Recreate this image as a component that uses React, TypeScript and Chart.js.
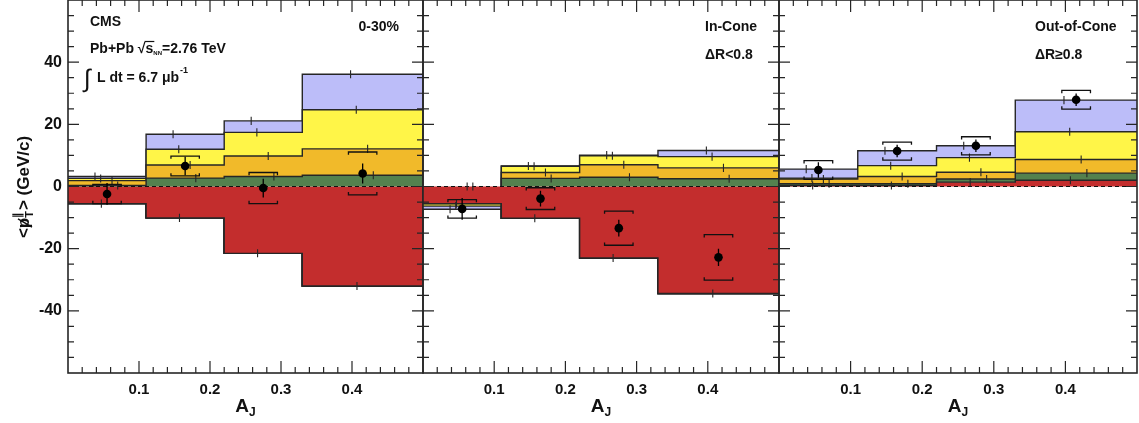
import React, { useEffect, useRef } from 'react';
import { Chart, registerables } from 'chart.js';

Chart.register(...registerables);

// ---------------- data ----------------
const BIN_EDGES = [0, 0.11, 0.22, 0.33, 0.5];
const BIN_CENTERS = [0.055, 0.165, 0.275, 0.415];
const X_TICKS = [0.1, 0.2, 0.3, 0.4];
const X_TICK_LABELS = ['0.1', '0.2', '0.3', '0.4'];
const Y_TICKS = [-40, -20, 0, 20, 40];
const Y_TICK_LABELS = ['-40', '-20', '0', '20', '40'];

// layers: 0.5-1, 1-2, 2-4, 4-8, 8-300 GeV/c (red, green, orange, yellow, blue)
// Panel 1: 0-30%
const P1_RED = [-5.5, -10.1, -21.5, -32.0];
const P1_GREEN = [0.3, 2.7, 3.2, 3.6];
const P1_ORANGE = [1.6, 4.2, 6.6, 8.5];
const P1_YELLOW = [0.7, 5.1, 7.6, 12.6];
const P1_BLUE = [0.6, 4.8, 3.7, 11.4];
const P1_DATA = [-2.4, 6.6, -0.5, 4.2];
const P1_STAT = [3.5, 3.0, 3.0, 3.2];
const P1_SYS = [3.1, 3.2, 5.0, 6.9];

// Panel 2: In-Cone
const P2_RED = [-5.5, -10.2, -23.0, -34.4];
const P2_GREEN = [0, 2.6, 3.0, 2.5];
const P2_ORANGE = [0, 1.9, 4.0, 3.5];
const P2_YELLOW = [-0.8, 2.0, 2.9, 3.6];
const P2_BLUE = [-1.0, 0.1, 0.2, 2.0];
const P2_DATA = [-7.2, -3.9, -13.4, -22.8];
const P2_STAT = [3.5, 2.5, 2.7, 2.8];
const P2_SYS = [3.0, 3.5, 5.5, 7.3];

// Panel 3: Out-of-Cone
const P3_RED = [0.3, 0.3, 1.4, 2.0];
const P3_GREEN = [0.6, 0.6, 1.0, 2.3];
const P3_ORANGE = [1.5, 2.3, 2.2, 4.4];
const P3_YELLOW = [0.3, 3.5, 4.7, 8.9];
const P3_BLUE = [2.9, 4.8, 3.8, 10.2];
const P3_DATA = [5.3, 11.4, 13.1, 27.9];
const P3_STAT = [2.5, 2.0, 2.0, 2.0];
const P3_SYS = [3.0, 2.9, 2.9, 3.0];

// ---------------- style ----------------
const FONT = '"Liberation Sans", Arial, Helvetica, sans-serif';
const OUTLINE = '#262626';
const LAYER_COLORS = ['#c32d2d', '#54814e', '#f1ba2a', '#fff548', '#bcbdf9'];
const TICK_OFFSETS = [-0.008, 0.015, 0.007, -0.009, -0.017];
const LAYER_TICK_HALF = 1.3;
const BRACKET_HALF_W = 0.02;
const BRACKET_LIP = 0.9;
const H = 423;

type TextFn = (ctx: CanvasRenderingContext2D, off: number) => void;

function txt(ctx: CanvasRenderingContext2D, s: string, x: number, y: number, size: number, align: CanvasTextAlign = 'left', weight = 'bold') {
  ctx.font = `${weight} ${size}px ${FONT}`;
  ctx.textAlign = align;
  ctx.textBaseline = 'alphabetic';
  ctx.fillStyle = '#111';
  ctx.fillText(s, x, y);
  return ctx.measureText(s).width;
}

const p1Texts: TextFn = (ctx, off) => {
  txt(ctx, 'CMS', 90 - off, 26, 14);
  txt(ctx, '0-30%', 399 - off, 31, 14, 'right');
  let x = 90 - off;
  const y = 53;
  x += txt(ctx, 'Pb+Pb ', x, y, 14);
  x += txt(ctx, '\u221A', x, y, 14);
  const sx = x;
  x += txt(ctx, 's', x, y, 14);
  ctx.strokeStyle = '#111';
  ctx.lineWidth = 1.2;
  ctx.beginPath();
  ctx.moveTo(sx - 1, y - 11.5);
  ctx.lineTo(x + 1, y - 11.5);
  ctx.stroke();
  x += txt(ctx, 'NN', x, y + 2, 6);
  txt(ctx, '=2.76 TeV', x, y, 14);
  txt(ctx, '\u222B', 84 - off, 87, 25, 'left', 'normal');
  const w = txt(ctx, 'L dt = 6.7 \u03BCb', 97 - off, 82, 14);
  txt(ctx, '-1', 97 - off + w + 1, 73, 9);
};
const p2Texts: TextFn = (ctx, off) => {
  txt(ctx, 'In-Cone', 705 - off, 31, 14);
  txt(ctx, '\u0394R<0.8', 705 - off, 59, 14);
};
const p3Texts: TextFn = (ctx, off) => {
  txt(ctx, 'Out-of-Cone', 1035 - off, 31, 14);
  txt(ctx, '\u0394R\u22650.8', 1035 - off, 59, 14);
};

interface PanelCfg {
  left: number;
  width: number;
  padL: number;
  padR: number;
  showY: boolean;
  layers: number[][];
  data: number[];
  stat: number[];
  sys: number[];
  texts: TextFn;
}

const PANELS: PanelCfg[] = [
  { left: 0, width: 427, padL: 0, padR: 4, showY: true, layers: [P1_RED, P1_GREEN, P1_ORANGE, P1_YELLOW, P1_BLUE], data: P1_DATA, stat: P1_STAT, sys: P1_SYS, texts: p1Texts },
  { left: 417, width: 366, padL: 6, padR: 4, showY: false, layers: [P2_RED, P2_GREEN, P2_ORANGE, P2_YELLOW, P2_BLUE], data: P2_DATA, stat: P2_STAT, sys: P2_SYS, texts: p2Texts },
  { left: 773, width: 366, padL: 6, padR: 2, showY: false, layers: [P3_RED, P3_GREEN, P3_ORANGE, P3_YELLOW, P3_BLUE], data: P3_DATA, stat: P3_STAT, sys: P3_SYS, texts: p3Texts },
];

function histPoints(vals: number[]) {
  const pts: { x: number; y: number }[] = [];
  vals.forEach((v, i) => {
    pts.push({ x: BIN_EDGES[i], y: v });
    pts.push({ x: BIN_EDGES[i + 1], y: v });
  });
  return pts;
}

function buildDatasets(p: PanelCfg) {
  const ds: any[] = [];
  const n = BIN_CENTERS.length;
  const posTop: number[][] = [];
  const negTop: number[][] = [];
  for (const side of ['pos', 'neg']) {
    const cum = new Array(n).fill(0);
    p.layers.forEach((vals, li) => {
      for (let b = 0; b < n; b++) {
        const v = vals[b];
        if (side === 'pos' ? v > 0 : v < 0) cum[b] += v;
      }
      const snap = cum.slice();
      (side === 'pos' ? posTop : negTop)[li] = snap;
      ds.push({
        data: histPoints(snap),
        fill: li === 0 ? 'origin' : '-1',
        backgroundColor: LAYER_COLORS[li],
        borderColor: OUTLINE,
        borderWidth: 1.4,
        pointRadius: 0,
        tension: 0,
        order: 10,
        segment: {
          borderColor: (c: any) => (c.p0.parsed.y === 0 && c.p1.parsed.y === 0 ? 'rgba(0,0,0,0)' : OUTLINE),
        },
      });
    });
  }
  // zero line
  ds.push({
    data: [{ x: BIN_EDGES[0], y: 0 }, { x: BIN_EDGES[BIN_EDGES.length - 1], y: 0 }],
    borderColor: '#111', borderWidth: 1.2, borderDash: [4, 3], pointRadius: 0, fill: false, order: 3,
  });
  // layer stat ticks
  const tickPts: any[] = [];
  p.layers.forEach((vals, li) => {
    vals.forEach((v, b) => {
      const y = v < 0 ? negTop[li][b] : posTop[li][b];
      const x = BIN_CENTERS[b] + TICK_OFFSETS[li];
      tickPts.push({ x, y: y - LAYER_TICK_HALF }, { x, y: y + LAYER_TICK_HALF }, { x, y: null });
    });
  });
  ds.push({ data: tickPts, borderColor: OUTLINE, borderWidth: 1.1, pointRadius: 0, fill: false, spanGaps: false, order: 2 });
  // data stat errors and systematic brackets
  const statPts: any[] = [];
  const sysPts: any[] = [];
  p.data.forEach((d, b) => {
    const x = BIN_CENTERS[b];
    statPts.push({ x, y: d - p.stat[b] }, { x, y: d + p.stat[b] }, { x, y: null });
    const hi = d + p.sys[b];
    const lo = d - p.sys[b];
    const xl = x - BRACKET_HALF_W;
    const xr = x + BRACKET_HALF_W;
    sysPts.push({ x: xl, y: hi - BRACKET_LIP }, { x: xl, y: hi }, { x: xr, y: hi }, { x: xr, y: hi - BRACKET_LIP }, { x, y: null });
    sysPts.push({ x: xl, y: lo + BRACKET_LIP }, { x: xl, y: lo }, { x: xr, y: lo }, { x: xr, y: lo + BRACKET_LIP }, { x, y: null });
  });
  ds.push({ data: statPts, borderColor: '#000', borderWidth: 1.3, pointRadius: 0, fill: false, spanGaps: false, order: 1 });
  ds.push({ data: sysPts, borderColor: '#111', borderWidth: 1.3, pointRadius: 0, fill: false, spanGaps: false, order: 1 });
  ds.push({
    data: p.data.map((d, b) => ({ x: BIN_CENTERS[b], y: d })),
    showLine: false, pointRadius: 4.3, pointBackgroundColor: '#000', pointBorderColor: '#000', pointBorderWidth: 0, fill: false, order: 0,
  });
  return ds;
}

function makePlugin(p: PanelCfg) {
  return {
    id: 'frameDecor',
    afterDatasetsDraw(chart: any) {
      const { ctx, chartArea } = chart;
      const { left, right, top, bottom } = chartArea;
      const xs = chart.scales.x;
      const ys = chart.scales.y;
      ctx.save();
      ctx.strokeStyle = OUTLINE;
      ctx.lineWidth = 1.2;
      ctx.beginPath();
      for (let k = -11; k <= 11; k++) {
        const py = ys.getPixelForValue(k * 5);
        const len = k % 4 === 0 ? 11 : 6;
        ctx.moveTo(left, py); ctx.lineTo(left + len, py);
        ctx.moveTo(right, py); ctx.lineTo(right - len, py);
      }
      for (let k = 1; k < 25; k++) {
        const px = xs.getPixelForValue(k * 0.02);
        const len = k % 5 === 0 ? 12 : 6;
        ctx.moveTo(px, bottom); ctx.lineTo(px, bottom - len);
        ctx.moveTo(px, top); ctx.lineTo(px, top + len);
      }
      ctx.stroke();
      ctx.lineWidth = 1.6;
      ctx.strokeRect(left, top, right - left, bottom - top);
      ctx.restore();
    },
    afterDraw(chart: any) {
      const { ctx, chartArea } = chart;
      ctx.save();
      p.texts(ctx, p.left);
      // A_J axis title
      const cx = (chartArea.left + chartArea.right) / 2;
      ctx.font = `bold 19px ${FONT}`;
      const wA = ctx.measureText('A').width;
      ctx.font = `bold 12px ${FONT}`;
      const wJ = ctx.measureText('J').width;
      const sx = cx - (wA + wJ) / 2;
      txt(ctx, 'A', sx, 412, 19);
      txt(ctx, 'J', sx + wA, 416, 12);
      if (p.showY) {
        ctx.translate(29, 187);
        ctx.rotate(-Math.PI / 2);
        const big = 17;
        const sm = 11;
        ctx.font = `bold ${big}px ${FONT}`;
        const wLt = ctx.measureText('<').width;
        const wP = ctx.measureText('p').width;
        const wGt = ctx.measureText('>').width;
        const wRest = ctx.measureText(' (GeV/c)').width;
        ctx.font = `bold ${sm}px ${FONT}`;
        const wSub = Math.max(ctx.measureText('\u2225').width, ctx.measureText('T').width);
        const total = wLt + wP + wSub + 1 + wGt + wRest;
        let x = -total / 2;
        x += txt(ctx, '<', x, 0, big);
        const px = x;
        x += txt(ctx, 'p', x, 0, big);
        ctx.strokeStyle = '#111';
        ctx.lineWidth = 1.4;
        ctx.beginPath();
        ctx.moveTo(px + 1, 3);
        ctx.lineTo(px + wP - 1, -11);
        ctx.stroke();
        txt(ctx, '\u2225', x, -8, sm);
        txt(ctx, 'T', x, 4, sm);
        x += wSub + 1;
        x += txt(ctx, '>', x, 0, big);
        txt(ctx, ' (GeV/c)', x, 0, big);
      }
      ctx.restore();
    },
  };
}

function Panel({ p }: { p: PanelCfg }) {
  const ref = useRef<HTMLCanvasElement>(null);
  useEffect(() => {
    const chart = new Chart(ref.current as HTMLCanvasElement, {
      type: 'line',
      data: { datasets: buildDatasets(p) },
      options: {
        responsive: false,
        animation: false,
        devicePixelRatio: 1,
        events: [],
        layout: { padding: { left: p.padL, right: p.padR, top: 0, bottom: 0 }, autoPadding: false },
        plugins: { legend: { display: false }, tooltip: { enabled: false }, title: { display: false } },
        scales: {
          x: {
            type: 'linear', min: 0, max: 0.5,
            grid: { display: false, drawTicks: false }, border: { display: false },
            afterBuildTicks: (s: any) => { s.ticks = X_TICKS.map((v) => ({ value: v })); },
            afterFit: (s: any) => { s.height = 50; s.paddingLeft = 0; s.paddingRight = 0; },
            ticks: { autoSkip: false, maxRotation: 0, padding: 8, color: '#111', font: { family: FONT, size: 15, weight: 'bold' }, callback: (_v: any, i: number) => X_TICK_LABELS[i] },
          },
          y: {
            type: 'linear', min: -60, max: 60, display: p.showY,
            grid: { display: false, drawTicks: false }, border: { display: false },
            afterBuildTicks: (s: any) => { s.ticks = Y_TICKS.map((v) => ({ value: v })); },
            afterFit: (s: any) => {
              if (p.showY) s.width = 68;
              s.paddingTop = 0;
              s.paddingBottom = 0;
            },
            ticks: { padding: 6, color: '#111', font: { family: FONT, size: 16, weight: 'bold' }, callback: (_v: any, i: number) => Y_TICK_LABELS[i] },
          },
        },
      } as any,
      plugins: [makePlugin(p)],
    });
    return () => chart.destroy();
  }, []);
  return (
    <canvas
      ref={ref}
      width={p.width}
      height={H}
      style={{ position: 'absolute', left: p.left, top: 0, width: p.width, height: H }}
    />
  );
}

export default function App() {
  return (
    <div style={{ position: 'absolute', left: 0, top: 0, width: 1139, height: H, background: '#fff', overflow: 'hidden' }}>
      {PANELS.map((p, i) => (
        <Panel key={i} p={p} />
      ))}
    </div>
  );
}
